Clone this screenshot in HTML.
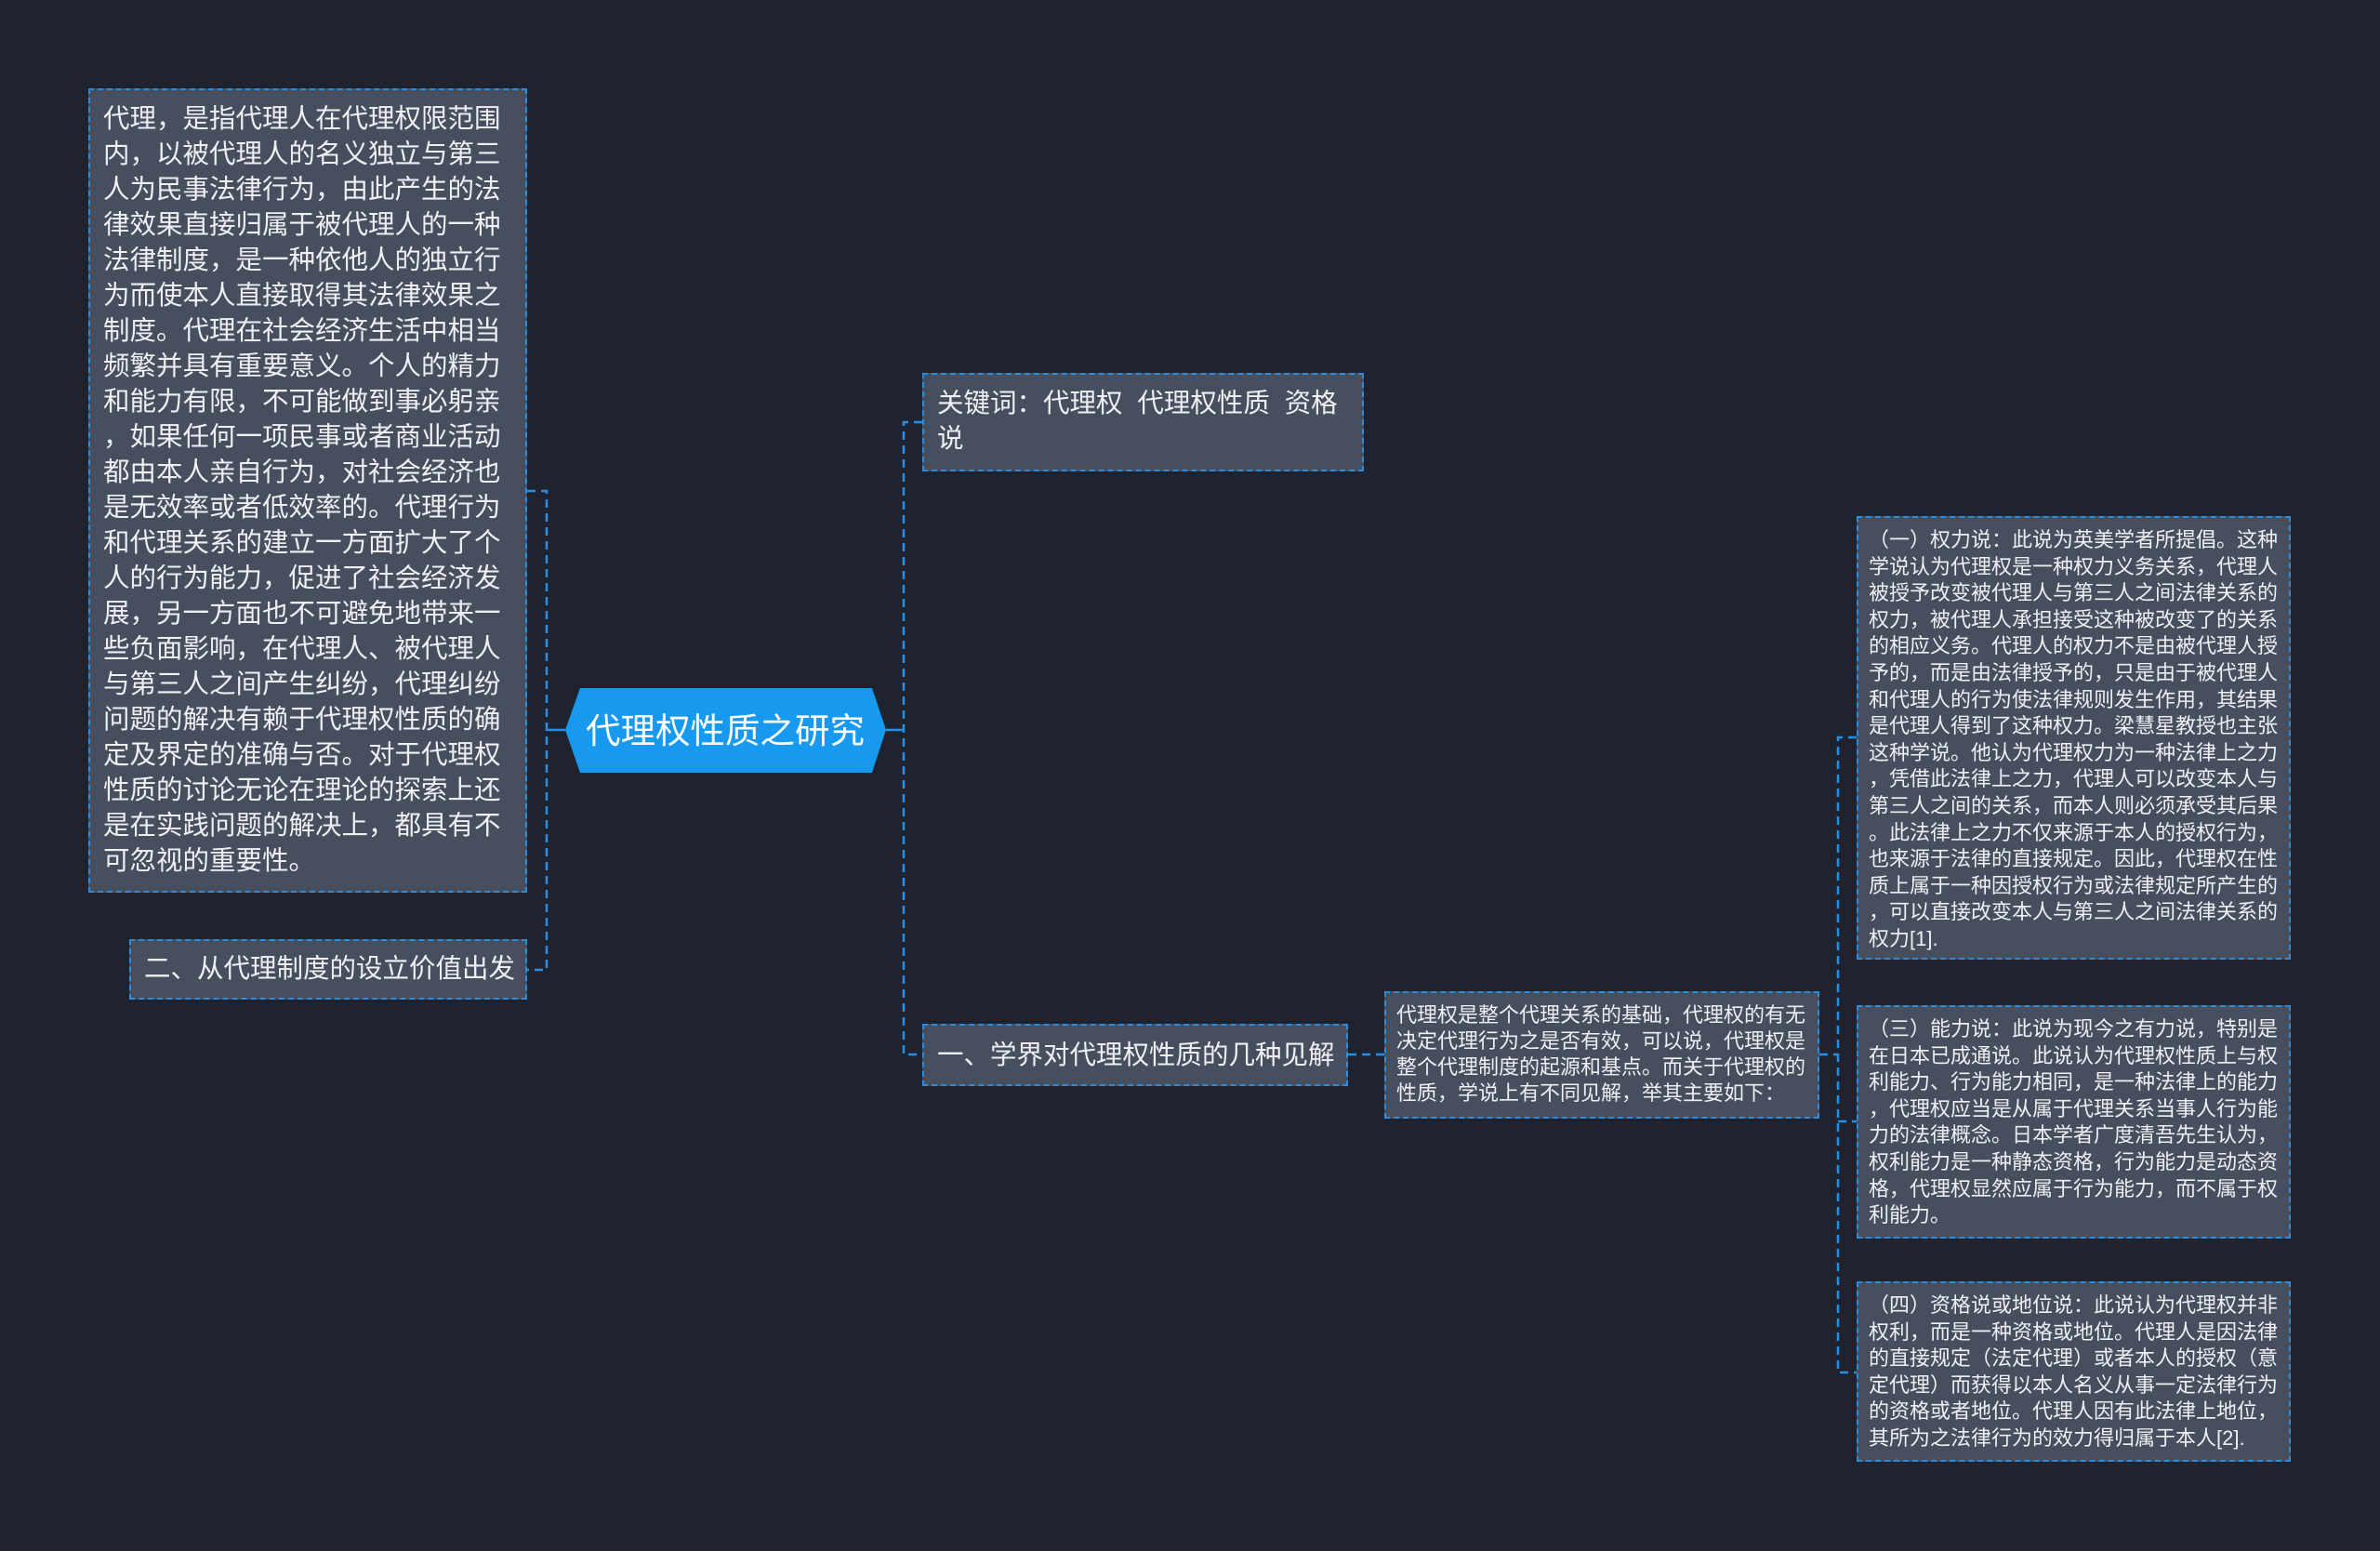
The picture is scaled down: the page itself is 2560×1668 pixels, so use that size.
<!DOCTYPE html>
<html><head><meta charset="utf-8"><style>
html,body{margin:0;padding:0;background:#1f2330;}
body{width:2560px;height:1668px;position:relative;overflow:hidden;font-family:"Liberation Sans","Noto Sans CJK SC",sans-serif;color:#eef0f4;}
.b{position:absolute;box-sizing:border-box;background:#474f5f;border:2px dashed #2a8ee0;white-space:nowrap;}
</style></head><body>
<svg width="2560" height="1668" style="position:absolute;left:0;top:0">
<g stroke="#2a8ee0" stroke-width="2.5" fill="none" stroke-dasharray="9,6">
<path d="M567 528 H588 V1043 H567"/>
<path d="M588 785 H608" stroke-dasharray="none"/>
<path d="M953 785 H972" stroke-dasharray="none"/>
<path d="M992 454 H972 V1134 H992"/>
<path d="M1450 1134 H1489"/>
<path d="M1957 1134 H1977"/>
<path d="M1997 793 H1977 V1476 H1997"/>
<path d="M1977 1206 H1997"/>
</g>
<polygon points="608,785 624,740 938,740 953,785 938,831 624,831" fill="#1899f0"/>
<text x="780" y="799" fill="#fff" font-size="37.5" text-anchor="middle" font-family="Liberation Sans, Noto Sans CJK SC, sans-serif">代理权性质之研究</text>
</svg>

<div class="b" style="left:95px;top:95px;width:472px;height:865px;padding:12px 0 0 14px;font-size:28.5px;line-height:38px;">代理，是指代理人在代理权限范围<br>内，以被代理人的名义独立与第三<br>人为民事法律行为，由此产生的法<br>律效果直接归属于被代理人的一种<br>法律制度，是一种依他人的独立行<br>为而使本人直接取得其法律效果之<br>制度。代理在社会经济生活中相当<br>频繁并具有重要意义。个人的精力<br>和能力有限，不可能做到事必躬亲<br>，如果任何一项民事或者商业活动<br>都由本人亲自行为，对社会经济也<br>是无效率或者低效率的。代理行为<br>和代理关系的建立一方面扩大了个<br>人的行为能力，促进了社会经济发<br>展，另一方面也不可避免地带来一<br>些负面影响，在代理人、被代理人<br>与第三人之间产生纠纷，代理纠纷<br>问题的解决有赖于代理权性质的确<br>定及界定的准确与否。对于代理权<br>性质的讨论无论在理论的探索上还<br>是在实践问题的解决上，都具有不<br>可忽视的重要性。</div>

<div class="b" style="left:139px;top:1010px;width:428px;height:65px;padding:10px 0 0 14px;font-size:28.5px;line-height:40px;">二、从代理制度的设立价值出发</div>

<div class="b" style="left:992px;top:401px;width:475px;height:106px;padding:12px 0 0 14px;font-size:28.5px;line-height:38px;">关键词：代理权&nbsp; 代理权性质&nbsp; 资格<br>说</div>

<div class="b" style="left:992px;top:1101px;width:458px;height:67px;padding:12px 0 0 14px;font-size:28.5px;line-height:40px;">一、学界对代理权性质的几种见解</div>

<div class="b" style="left:1489px;top:1066px;width:468px;height:137px;padding:10px 0 0 11px;font-size:22px;line-height:28px;">代理权是整个代理关系的基础，代理权的有无<br>决定代理行为之是否有效，可以说，代理权是<br>整个代理制度的起源和基点。而关于代理权的<br>性质，学说上有不同见解，举其主要如下：</div>

<div class="b" style="left:1997px;top:555px;width:467px;height:477px;padding:10px 0 0 11px;font-size:22px;line-height:28.6px;">（一）权力说：此说为英美学者所提倡。这种<br>学说认为代理权是一种权力义务关系，代理人<br>被授予改变被代理人与第三人之间法律关系的<br>权力，被代理人承担接受这种被改变了的关系<br>的相应义务。代理人的权力不是由被代理人授<br>予的，而是由法律授予的，只是由于被代理人<br>和代理人的行为使法律规则发生作用，其结果<br>是代理人得到了这种权力。梁慧星教授也主张<br>这种学说。他认为代理权力为一种法律上之力<br>，凭借此法律上之力，代理人可以改变本人与<br>第三人之间的关系，而本人则必须承受其后果<br>。此法律上之力不仅来源于本人的授权行为，<br>也来源于法律的直接规定。因此，代理权在性<br>质上属于一种因授权行为或法律规定所产生的<br>，可以直接改变本人与第三人之间法律关系的<br>权力[1].</div>

<div class="b" style="left:1997px;top:1081px;width:467px;height:251px;padding:10px 0 0 11px;font-size:22px;line-height:28.6px;">（三）能力说：此说为现今之有力说，特别是<br>在日本已成通说。此说认为代理权性质上与权<br>利能力、行为能力相同，是一种法律上的能力<br>，代理权应当是从属于代理关系当事人行为能<br>力的法律概念。日本学者广度清吾先生认为，<br>权利能力是一种静态资格，行为能力是动态资<br>格，代理权显然应属于行为能力，而不属于权<br>利能力。</div>

<div class="b" style="left:1997px;top:1378px;width:467px;height:194px;padding:10px 0 0 11px;font-size:22px;line-height:28.6px;">（四）资格说或地位说：此说认为代理权并非<br>权利，而是一种资格或地位。代理人是因法律<br>的直接规定（法定代理）或者本人的授权（意<br>定代理）而获得以本人名义从事一定法律行为<br>的资格或者地位。代理人因有此法律上地位，<br>其所为之法律行为的效力得归属于本人[2].</div>
</body></html>
